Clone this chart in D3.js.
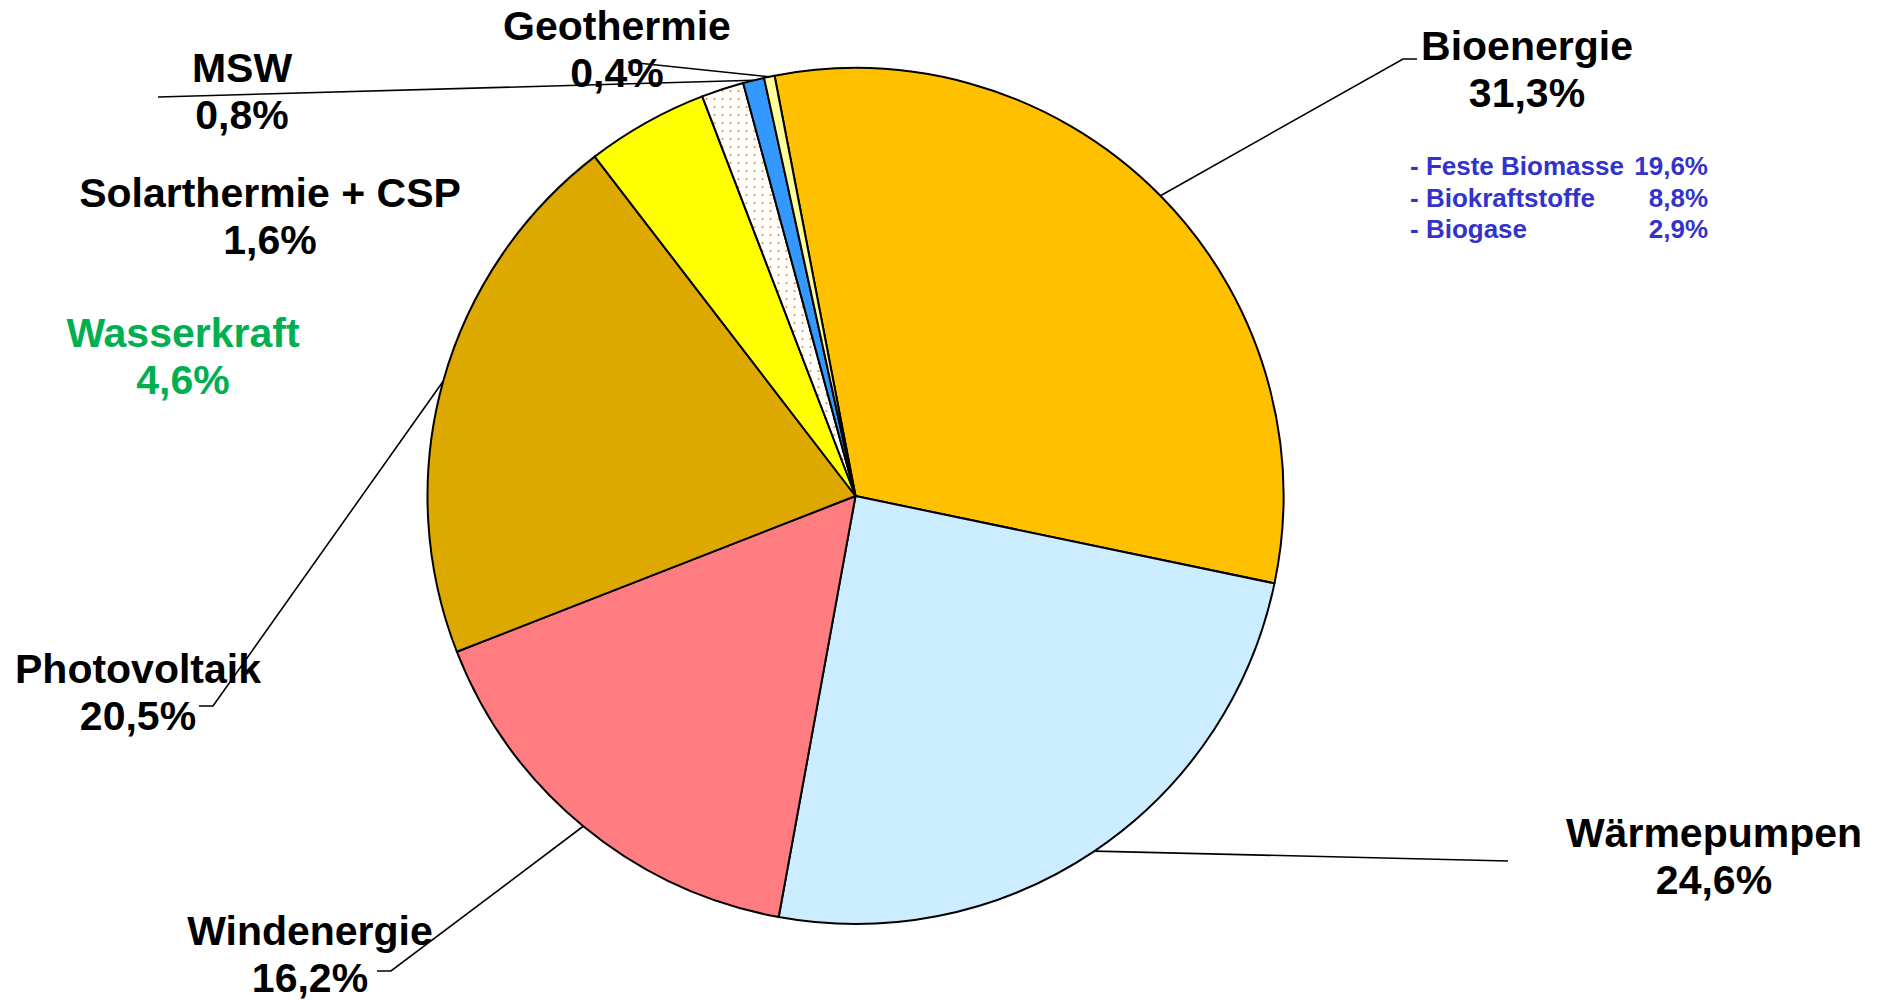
<!DOCTYPE html>
<html>
<head>
<meta charset="utf-8">
<script src="https://cdn.jsdelivr.net/npm/d3@7"></script>
<style>
  html, body { margin: 0; padding: 0; background: #ffffff; }
  svg { display: block; }
  text { font-family: "Liberation Sans", Arial, sans-serif; font-weight: bold; }
</style>
</head>
<body>
<svg id="chart" width="1878" height="1000"></svg>
<script>
// ---- Data (clockwise from Bioenergie) ----
const categories = ["Bioenergie", "Wärmepumpen", "Windenergie", "Photovoltaik", "Wasserkraft", "Solarthermie + CSP", "MSW", "Geothermie"];
const shares = [31.3, 24.6, 16.2, 20.5, 4.6, 1.6, 0.8, 0.4];
const bioSubCategories = ["- Feste Biomasse", "- Biokraftstoffe", "- Biogase"];
const bioSubShares = [19.6, 8.8, 2.9];

// ---- Styles / layout (separate from data) ----
const sliceFill = {
  "Bioenergie": "#FFC000",
  "Wärmepumpen": "#CCECFF",
  "Windenergie": "#FF7C80",
  "Photovoltaik": "#DDA800",
  "Wasserkraft": "#FFFF00",
  "Solarthermie + CSP": "url(#dots)",
  "MSW": "#3399FF",
  "Geothermie": "url(#checker)"
};
const labelColor = { "Wasserkraft": "#00B050" };
// label centre x, first baseline y, leader polyline (points after slice edge)
const labelLayout = {
  "Bioenergie":         { x: 1527, y: 60,  leader: [[1403, 59], [1417, 59]] },
  "Wärmepumpen":        { x: 1714, y: 847, leader: [[1508, 861]] },
  "Windenergie":        { x: 310,  y: 945, leader: [[391, 971], [377, 971]] },
  "Photovoltaik":       { x: 138,  y: 683, leader: [[213, 706], [199, 706]] },
  "Wasserkraft":        { x: 183,  y: 347, leader: null },
  "Solarthermie + CSP": { x: 270,  y: 207, leader: null },
  "MSW":                { x: 242,  y: 82,  leader: [[158, 97]] },
  "Geothermie":         { x: 617,  y: 40,  leader: [[628, 62]] }
};

const cx = 855.5, cy = 496, R = 428;
const startDeg = -10.9;
const fontSize = 41, lineGap = 47;

const fmt = v => d3.format(".1f")(v).replace(".", ",") + "%";

const svg = d3.select("#chart");
const defs = svg.append("defs");
const dots = defs.append("pattern").attr("id", "dots")
  .attr("patternUnits", "userSpaceOnUse").attr("width", 8).attr("height", 8);
dots.append("rect").attr("width", 8).attr("height", 8).attr("fill", "#ffffff");
dots.append("rect").attr("x", 2).attr("y", 2).attr("width", 2).attr("height", 2).attr("fill", "#F4A040");

const checker = defs.append("pattern").attr("id", "checker")
  .attr("patternUnits", "userSpaceOnUse").attr("width", 2).attr("height", 2);
checker.append("rect").attr("width", 2).attr("height", 2).attr("fill", "#ffffff");
checker.append("rect").attr("width", 1).attr("height", 1).attr("fill", "#FFFF33");
checker.append("rect").attr("x", 1).attr("y", 1).attr("width", 1).attr("height", 1).attr("fill", "#FFFF33");

const data = categories.map((c, i) => ({ name: c, value: shares[i] }));

const start = startDeg * Math.PI / 180;
const pie = d3.pie().sort(null).value(d => d.value)
  .startAngle(start).endAngle(start + 2 * Math.PI);
const arcs = pie(data);
const arc = d3.arc().innerRadius(0).outerRadius(R);

const g = svg.append("g").attr("transform", `translate(${cx},${cy})`);
g.selectAll("path.slice").data(arcs).enter().append("path")
  .attr("class", "slice")
  .attr("d", arc)
  .attr("fill", d => sliceFill[d.data.name])
  .attr("stroke", "#000")
  .attr("stroke-width", 2)
  .attr("stroke-linejoin", "round");

// leader lines
const line = d3.line();
arcs.forEach(a => {
  const lay = labelLayout[a.data.name];
  if (!lay.leader) return;
  const mid = (a.startAngle + a.endAngle) / 2;
  const p0 = [cx + R * Math.sin(mid), cy - R * Math.cos(mid)];
  svg.append("path")
    .attr("d", line([p0, ...lay.leader]))
    .attr("fill", "none")
    .attr("stroke", "#000")
    .attr("stroke-width", 1.6);
});

// labels
arcs.forEach(a => {
  const lay = labelLayout[a.data.name];
  const col = labelColor[a.data.name] || "#000";
  const t = svg.append("text")
    .attr("text-anchor", "middle")
    .attr("font-size", fontSize)
    .attr("fill", col);
  t.append("tspan").attr("x", lay.x).attr("y", lay.y).text(a.data.name);
  t.append("tspan").attr("x", lay.x).attr("y", lay.y + lineGap).text(fmt(a.data.value));
});

// Bioenergie breakdown
const subLeft = 1410, subRight = 1708, subTop = 175, subGap = 31.5;
bioSubCategories.forEach((c, i) => {
  svg.append("text").attr("x", subLeft).attr("y", subTop + i * subGap)
    .attr("font-size", 26).attr("fill", "#3333CC").text(c);
  svg.append("text").attr("x", subRight).attr("y", subTop + i * subGap)
    .attr("text-anchor", "end")
    .attr("font-size", 26).attr("fill", "#3333CC").text(fmt(bioSubShares[i]));
});
</script>
</body>
</html>
